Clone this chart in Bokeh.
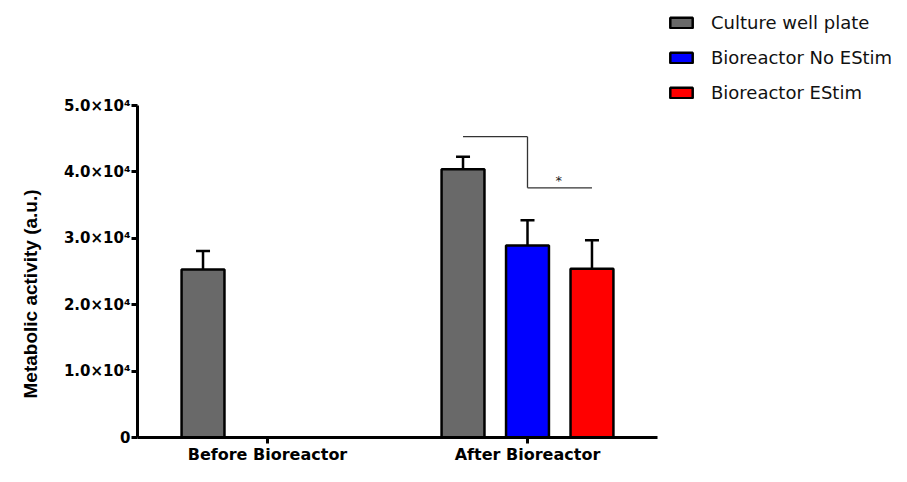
import math
from bokeh.plotting import figure
from bokeh.models import (Range1d, ColumnDataSource, Whisker, TeeHead,
                          Legend, LegendItem, FixedTicker, Title)
from bokeh.core.properties import value
from bokeh.embed import file_html
from bokeh.resources import INLINE

nan = float("nan")

# ---- data ----
groups = ["Before Bioreactor", "After Bioreactor"]
series = ["Culture well plate", "Bioreactor No EStim", "Bioreactor EStim"]
colors = ["#696969", "#0000ff", "#ff0000"]
means_culture = [25300, 40400]
means_no_estim = [nan, 28900]
means_estim = [nan, 25400]
err_culture = [2800, 1900]
err_no_estim = [nan, 3800]
err_estim = [nan, 4300]
y_ticks = [0, 10000, 20000, 30000, 40000, 50000]
y_tick_labels = ["0", "1.0×10⁴", "2.0×10⁴", "3.0×10⁴", "4.0×10⁴", "5.0×10⁴"]
y_title = "Metabolic activity (a.u.)"
sig_group = "After Bioreactor"
sig_high = 45300
sig_low = 37600
sig_text = "*"

means = [means_culture, means_no_estim, means_estim]
errs = [err_culture, err_no_estim, err_estim]
offsets = [-0.248, 0.0, 0.248]
bar_w = 0.165
centers = [i + 0.5 for i in range(len(groups))]

# frame geometry: frame spans to the right edge/top so the legend is not clipped
H, W = 466, 891
left, bottom_b = 137, 29
y0_px, y5_px = 437, 105          # pixel rows of 0 and 5e4
px_per_unit = (y0_px - y5_px) / max(y_ticks)
y_top = (H - bottom_b) / px_per_unit
x_end = (W - left) / 260.0

p = figure(x_range=Range1d(0, x_end), y_range=Range1d(0, y_top),
           width=W, height=H, output_backend="svg", toolbar_location=None,
           min_border_left=left, min_border_right=0, min_border_top=0,
           min_border_bottom=bottom_b)
p.outline_line_color = None
p.xgrid.grid_line_color = None
p.ygrid.grid_line_color = None
p.background_fill_color = "white"
p.border_fill_color = "white"

items = []
for name, col, m, e, off in zip(series, colors, means, errs, offsets):
    xs = [c + off for c, mm in zip(centers, m) if not math.isnan(mm)]
    t = [mm for mm in m if not math.isnan(mm)]
    u = [mm + ee for mm, ee in zip(m, e) if not math.isnan(mm)]
    src = ColumnDataSource(dict(x=xs, top=t, upper=u))
    w = Whisker(base="x", upper="upper", lower="top",
                source=src, line_color="black", line_width=2.5,
                upper_head=TeeHead(size=14, line_color="black", line_width=2.5),
                lower_head=None)
    p.add_layout(w)
    r = p.vbar(x="x", top="top", width=bar_w,
               source=src, fill_color=col, line_color="black", line_width=2.5)
    items.append(LegendItem(label=name, renderers=[r]))

# significance bracket
gc = centers[groups.index(sig_group)]
bc = "#333333"
ssrc = ColumnDataSource(dict(
    x0=[gc + offsets[0], gc + offsets[1], gc + offsets[1]],
    x1=[gc + offsets[1], gc + offsets[1], gc + offsets[2]],
    y0=[sig_high, sig_high, sig_low],
    y1=[sig_high, sig_low, sig_low]))
p.segment(x0="x0", y0="y0", x1="x1", y1="y1", source=ssrc,
          line_color=bc, line_width=1.3)
p.text(x=[gc + 0.12], y=[sig_low], text=[sig_text],
       text_font=value("DejaVu Sans"), text_font_size="13px", text_color="#222222",
       text_align="center", text_baseline="bottom")

legend = Legend(items=items, location=(530, 334), orientation="vertical",
                glyph_width=28, glyph_height=13, label_height=21, spacing=14,
                padding=0, margin=0, label_standoff=16,
                border_line_color=None, background_fill_alpha=0,
                label_text_font="DejaVu Sans", label_text_font_size="18px",
                label_text_color="#111111")
p.add_layout(legend)

# axes
for ax in (p.xaxis[0], p.yaxis[0]):
    ax.axis_line_width = 3
    ax.axis_line_color = "black"
    ax.major_tick_line_width = 3
    ax.major_tick_line_color = "black"
    ax.major_tick_out = 6
    ax.major_tick_in = 0
    ax.minor_tick_line_color = None
    ax.major_label_text_font = "DejaVu Sans"
    ax.major_label_text_font_style = "bold"
    ax.major_label_text_color = "black"

p.xaxis.bounds = (0, len(groups))
p.xaxis.ticker = FixedTicker(ticks=centers)
p.xaxis.major_label_overrides = {c: g for c, g in zip(centers, groups)}
p.xaxis.major_label_text_font_size = "16px"
p.xaxis.major_label_standoff = 1

p.yaxis.bounds = (0, max(y_ticks))
p.yaxis.ticker = FixedTicker(ticks=y_ticks)
p.yaxis.major_label_overrides = {t: l for t, l in zip(y_ticks, y_tick_labels)}
p.yaxis.major_label_text_font_size = "15px"
p.yaxis.major_label_standoff = 1

# y-axis title as a side-panel Title (bottom-aligned with an offset)
yt = Title(text=y_title, align="left", offset=39, standoff=35,
           vertical_align="top",
           text_font="Liberation Sans", text_font_style="bold",
           text_font_size="19px", text_color="black")
p.add_layout(yt, "left")

open("out.html", "w").write(file_html(p, INLINE))
